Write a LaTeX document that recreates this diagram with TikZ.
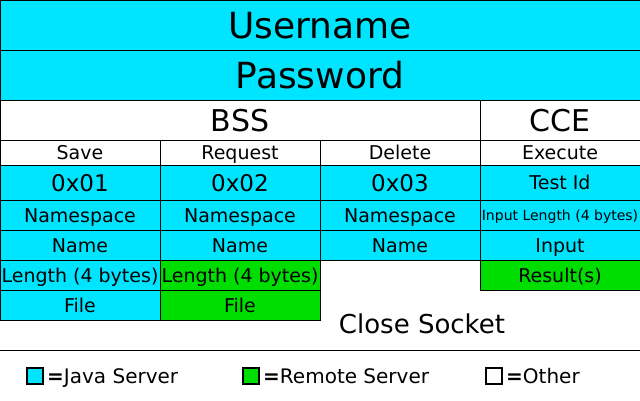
\documentclass[tikz,border=0pt]{standalone}
\usepackage{fontspec}
\setmainfont{DejaVu Sans}
\usetikzlibrary{positioning}
\definecolor{javacyan}{RGB}{0,229,255}
\definecolor{remotegreen}{RGB}{0,221,0}

\begin{document}
\begin{tikzpicture}[
  x=1pt, y=-1pt,
  body/.style={font=\fontsize{19}{19}\selectfont, text height=18pt, text depth=4pt},
  codefont/.style={font=\fontsize{23}{23}\selectfont, text height=21.8pt, text depth=4.8pt},
  titlefont/.style={font=\fontsize{30}{30}\selectfont, text height=28.5pt, text depth=6.3pt},
  hugefont/.style={font=\fontsize{36}{36}\selectfont, text height=34.2pt, text depth=7.6pt},
  smallfont/.style={font=\fontsize{14}{14}\selectfont, text height=13.3pt, text depth=2.9pt},
  cell/.style={draw, line width=1pt, anchor=north west, inner sep=0pt, outer sep=0pt,
    minimum width=160pt, minimum height=30pt, body},
  java/.style={cell, fill=javacyan},
  remote/.style={cell, fill=remotegreen},
  other/.style={cell, fill=white},
  big/.style={hugefont, minimum width=640pt, minimum height=50pt},
  key/.style={draw, line width=2pt, minimum size=16pt, inner sep=0pt},
  keytext/.style={anchor=west, inner sep=0pt, font=\fontsize{20}{20}\selectfont, text height=19pt, text depth=4.2pt}
]
\useasboundingbox (0,0) rectangle (640,400);

% login
\node[java, big] (user) at (0,0) {Username};
\node[java, big] (pass) at (0,50) {Password};

% services
\node[other, minimum width=480pt, minimum height=40pt, titlefont] (bss) at (0,100) {BSS};
\node[other, minimum height=40pt, titlefont] (cce) at (480,100) {CCE};

\node[other, minimum height=25pt] (save) at (0,140) {Save};
\node[other, minimum height=25pt] (request) at (160,140) {Request};
\node[other, minimum height=25pt] (delete) at (320,140) {Delete};
\node[other, minimum height=25pt] (execute) at (480,140) {Execute};

\node[java, minimum height=35pt, codefont] (code1) at (0,165) {0x01};
\node[java, minimum height=35pt, codefont] (code2) at (160,165) {0x02};
\node[java, minimum height=35pt, codefont] (code3) at (320,165) {0x03};
\node[java, minimum height=35pt] (testid) at (480,165) {Test Id};

\node[java] (ns1) at (0,200) {Namespace};
\node[java] (ns2) at (160,200) {Namespace};
\node[java] (ns3) at (320,200) {Namespace};
\node[java, smallfont] (inlen) at (480,200) {Input Length (4 bytes)};

\node[java] (name1) at (0,230) {Name};
\node[java] (name2) at (160,230) {Name};
\node[java] (name3) at (320,230) {Name};
\node[java] (input) at (480,230) {Input};

\node[java] (len1) at (0,260) {Length (4 bytes)};
\node[remote] (len2) at (160,260) {Length (4 bytes)};
\node[remote] (result) at (480,260) {Result(s)};

\node[java] (file1) at (0,290) {File};
\node[remote] (file2) at (160,290) {File};

\node[font=\fontsize{26}{26}\selectfont] (close) at (422,324) {Close Socket};

% legend
\coordinate (sepL) at (0,350);
\coordinate (sepR) at (640,350);
\draw[line width=1pt] (sepL) -- (sepR);

\node[key, fill=javacyan] (kjava) at (35,376) {};
\node[keytext, right=3pt of kjava] (tjava) {\textbf{=}Java Server};
\node[key, fill=remotegreen] (kremote) at (251,376) {};
\node[keytext, right=3pt of kremote] (tremote) {\textbf{=}Remote Server};
\node[key, fill=white] (kother) at (494,376) {};
\node[keytext, right=3pt of kother] (tother) {\textbf{=}Other};
\end{tikzpicture}
\end{document}
